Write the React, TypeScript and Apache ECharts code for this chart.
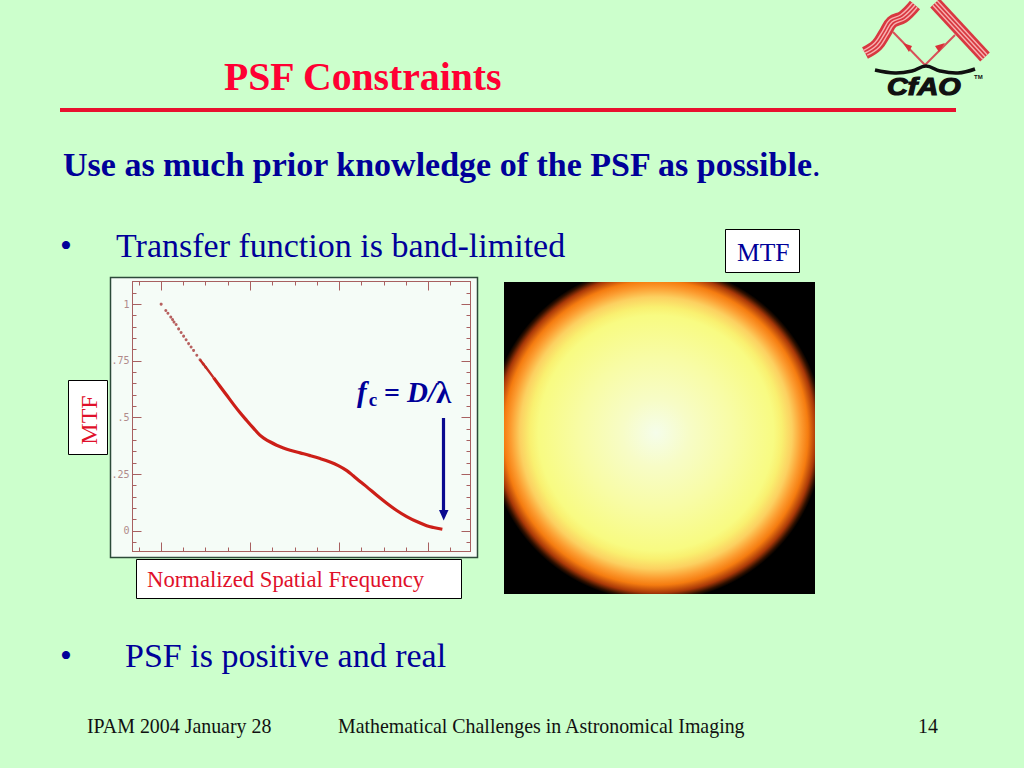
import React, { useEffect, useRef } from "react";
import * as echarts from "echarts";

const titleText = "PSF Constraints";
const leadText = "Use as much prior knowledge of the PSF as possible";
const bulletOne = "Transfer function is band-limited";
const bulletTwo = "PSF is positive and real";
const footerLeft = "IPAM 2004 January 28";
const footerMiddle = "Mathematical Challenges in Astronomical Imaging";
const footerRight = "14";

const yMajorTicks = [0, 0.25, 0.5, 0.75, 1];
const yMinorTicks = [-0.05, 0.05, 0.1, 0.15, 0.2, 0.3, 0.35, 0.4, 0.45, 0.55, 0.6, 0.65, 0.7, 0.8, 0.85, 0.9, 0.95, 1.05];
const xMajorTicks = [0, 0.25, 0.5, 0.75];
const xMinorTicks = [-0.0625, 0.0625, 0.125, 0.1875, 0.3125, 0.375, 0.4375, 0.5625, 0.625, 0.6875, 0.8125];
const yLabelsByValue: Record<string, string> = { "0": "0", "0.25": ".25", "0.5": ".5", "0.75": ".75", "1": "1" };

const headPoints = [
  [0, 1], [0.013, 0.972], [0.019, 0.96], [0.027, 0.943], [0.032, 0.932], [0.036, 0.921], [0.042, 0.91], [0.049, 0.891], [0.056, 0.875],
  [0.063, 0.859], [0.07, 0.843], [0.077, 0.826], [0.084, 0.811], [0.091, 0.796], [0.1, 0.775], [0.109, 0.755], [0.118, 0.736], [0.125, 0.722],
];
const midCurve = [
  [0.109, 0.755], [0.128, 0.716], [0.147, 0.676],
];
const mainCurve = [
  [0.147, 0.676], [0.165, 0.638], [0.184, 0.598], [0.203, 0.558], [0.221, 0.522], [0.24, 0.487], [0.259, 0.453],
  [0.277, 0.422], [0.291, 0.406], [0.305, 0.393], [0.324, 0.378], [0.343, 0.366], [0.362, 0.356], [0.39, 0.344], [0.418, 0.332],
  [0.446, 0.319], [0.474, 0.304], [0.497, 0.288], [0.521, 0.266], [0.539, 0.243], [0.558, 0.218], [0.577, 0.194], [0.605, 0.157],
  [0.633, 0.122], [0.661, 0.09], [0.689, 0.063], [0.717, 0.041], [0.745, 0.023], [0.764, 0.015], [0.789, 0.007],
];

const discStops = [
  { offset: 0, color: "#f5fdea" },
  { offset: 0.2, color: "#f7fcc6" },
  { offset: 0.45, color: "#f8fca6" },
  { offset: 0.7, color: "#f8fb82" },
  { offset: 0.75, color: "#f9f070" },
  { offset: 0.81, color: "#fcd060" },
  { offset: 0.865, color: "#fc9c30" },
  { offset: 0.905, color: "#f57c10" },
  { offset: 0.952, color: "#a83808" },
  { offset: 0.982, color: "#301000" },
  { offset: 1, color: "#000000" },
];

const serif = "'Liberation Serif', serif";
const navy = "#000099";

function label(text: string, x: number, y: number, size: number, color: string, weight = "normal") {
  return {
    type: "text", x, y, z: 20,
    style: { text, fontFamily: serif, fontSize: size, fontWeight: weight, fill: color, textVerticalAlign: "middle", textAlign: "left" },
  };
}

function box(x: number, y: number, width: number, height: number) {
  return { type: "rect", z: 15, shape: { x: x + 0.5, y: y + 0.5, width, height }, style: { fill: "#ffffff", stroke: "#000000", lineWidth: 1 } };
}

function stripes(points: number[][], smooth: number, nx: number, ny: number) {
  const offset = (d: number) => points.map(([x, y]) => [x + d * nx, y + d * ny]);
  const line = (pts: number[][], color: string, w: number) => ({
    type: "polyline", z: 20, shape: { points: pts, smooth }, style: { stroke: color, lineWidth: w, fill: "none", lineCap: "butt" },
  });
  return [line(points, "#d83840", 13), line(offset(-3.2), "#f8b0b0", 1.4), line(offset(0), "#f8b0b0", 1.4), line(offset(3.2), "#f8b0b0", 1.4)];
}

function logo() {
  const beam = (x1: number, y1: number, x2: number, y2: number) => ({
    type: "line", z: 19, shape: { x1, y1, x2, y2 }, style: { stroke: "#d85058", lineWidth: 2 },
  });
  const head = (points: number[][]) => ({ type: "polygon", z: 19, shape: { points }, style: { fill: "#d83038" } });
  return [
    ...stripes([[915, 5], [903, 17], [892, 22], [885, 33], [877, 45], [865, 53]], 0.4, 0.7, 0.7),
    ...stripes([[935, 3], [985, 57]], 0, 0.7, -0.7),
    beam(893, 32, 925, 65), beam(955, 35, 925, 65),
    head([[903, 43], [912, 46], [909, 52]]),
    head([[945, 43], [935, 46], [939, 52]]),
    {
      type: "polyline", z: 20,
      shape: { points: [[875, 70], [895, 73], [912, 71], [926, 66], [940, 71], [958, 73], [975, 69]], smooth: 0.4 },
      style: { stroke: "#101010", lineWidth: 3.5, fill: "none" },
    },
    {
      type: "text", x: 887, y: 87, scaleX: 1.2, z: 20,
      style: { text: "CfAO", fontFamily: "'Liberation Sans', sans-serif", fontSize: 24, fontWeight: "bold", fontStyle: "italic", fill: "#111111", stroke: "#111111", lineWidth: 1.2, textVerticalAlign: "middle" },
    },
    {
      type: "text", x: 974, y: 77, z: 20,
      style: { text: "TM", fontFamily: "'Liberation Sans', sans-serif", fontSize: 6, fontWeight: "bold", fill: "#111111", textVerticalAlign: "middle" },
    },
  ];
}

function tickAxis(values: number[], position: string, length: number, range: number[], showLine: boolean, labelled = false) {
  return {
    type: "value", position, min: range[0], max: range[1], scale: true,
    axisLine: { show: showLine, onZero: false, lineStyle: { color: "#a86060", width: 1 } },
    axisTick: { show: true, inside: true, length, customValues: values, lineStyle: { color: "#a86060", width: 1 } },
    axisLabel: labelled
      ? {
          show: true, customValues: values, margin: 3, fontFamily: "'DejaVu Sans Mono', monospace", fontSize: 10, color: "#b08a8a",
          formatter: (v: number) => yLabelsByValue[String(v)] ?? "",
        }
      : { show: false },
    splitLine: { show: false },
  };
}

export default function App() {
  const ref = useRef<HTMLDivElement>(null);
  useEffect(() => {
    document.body.style.margin = "0";
    document.body.style.background = "#ccffcc";
    const chart = echarts.init(ref.current!, undefined, { renderer: "svg" });
    const xRange = [-0.0804, 0.868];
    const yRange = [-0.091, 1.1];
    chart.setOption({
      animation: false,
      backgroundColor: "#ccffcc",
      grid: { left: 132.5, top: 281.5, width: 338, height: 270, containLabel: false },
      xAxis: [
        tickAxis(xMajorTicks, "bottom", 9, xRange, true),
        tickAxis(xMinorTicks, "bottom", 4, xRange, false),
        tickAxis(xMajorTicks, "top", 9, xRange, true),
        tickAxis(xMinorTicks, "top", 4, xRange, false),
      ],
      yAxis: [
        tickAxis(yMajorTicks, "left", 9, yRange, true, true),
        tickAxis(yMinorTicks, "left", 4, yRange, false),
        tickAxis(yMajorTicks, "right", 9, yRange, true),
        tickAxis(yMinorTicks, "right", 4, yRange, false),
      ],
      series: [
        { type: "scatter", data: headPoints, symbolSize: 3, itemStyle: { color: "#a83a3a" }, silent: true },
        { type: "line", data: midCurve, showSymbol: false, smooth: false, lineStyle: { color: "#c42a22", width: 2.4 }, silent: true },
        { type: "line", data: mainCurve, showSymbol: false, smooth: 0.35, lineStyle: { color: "#cc1f18", width: 3.2 }, silent: true },
      ],
      graphic: {
        elements: [
          { type: "rect", z: -10, shape: { x: 110.5, y: 277.5, width: 367, height: 280 }, style: { fill: "#f5fcf7", stroke: "#2c4a3a", lineWidth: 1.5 } },
          { type: "rect", z: 5, shape: { x: 504, y: 282, width: 311, height: 312 }, style: { fill: new echarts.graphic.RadialGradient(656, 433, 168, discStops, true) } },
          label(titleText, 224, 77, 39.7, "#ff0033", "bold"),
          { type: "rect", z: 5, shape: { x: 60, y: 108, width: 896, height: 4 }, style: { fill: "#e8102e" } },
          label(leadText, 63, 164, 34, navy, "bold"),
          label(".", 812, 164, 34, navy),
          label("•", 60, 245, 34, navy),
          label(bulletOne, 116, 245, 34, navy),
          label("•", 60, 655, 34, navy),
          label(bulletTwo, 125, 655, 34, navy),
          box(725, 229, 74, 43),
          label("MTF", 737, 252, 25.5, navy),
          box(68, 380, 39, 74),
          {
            type: "text", x: 89, y: 420, rotation: Math.PI / 2, z: 20,
            style: { text: "MTF", fontFamily: serif, fontSize: 24, fill: "#e0102a", textAlign: "center", textVerticalAlign: "middle" },
          },
          box(136, 559, 325, 39),
          label("Normalized Spatial Frequency", 147, 579, 22.7, "#e0102a"),
          {
            type: "text", x: 357, y: 392, z: 20,
            style: {
              text: "{f|f}{c|c}{r| = }{f|D/}{l|λ}",
              textVerticalAlign: "middle",
              rich: {
                f: { fontFamily: serif, fontSize: 29, fontStyle: "italic", fontWeight: "bold", fill: navy },
                c: { fontFamily: serif, fontSize: 19, fontWeight: "bold", fill: navy, padding: [14, 0, 0, 2] },
                r: { fontFamily: serif, fontSize: 28, fontWeight: "bold", fill: navy },
                l: { fontFamily: serif, fontSize: 31, fontWeight: "bold", fill: navy },
              },
            },
          },
          { type: "line", z: 20, shape: { x1: 443.5, y1: 418, x2: 443.5, y2: 512 }, style: { stroke: "#0a0a90", lineWidth: 3.2 } },
          { type: "polygon", z: 20, shape: { points: [[439, 510], [448.5, 510], [443.7, 520.5]] }, style: { fill: "#0a0a90" } },
          label(footerLeft, 87, 726, 19.9, "#111111"),
          label(footerMiddle, 338, 726, 19.9, "#111111"),
          label(footerRight, 918, 726, 19.9, "#111111"),
          ...logo(),
        ],
      },
    });
    return () => chart.dispose();
  }, []);
  return <div ref={ref} style={{ width: 1024, height: 768 }} />;
}
